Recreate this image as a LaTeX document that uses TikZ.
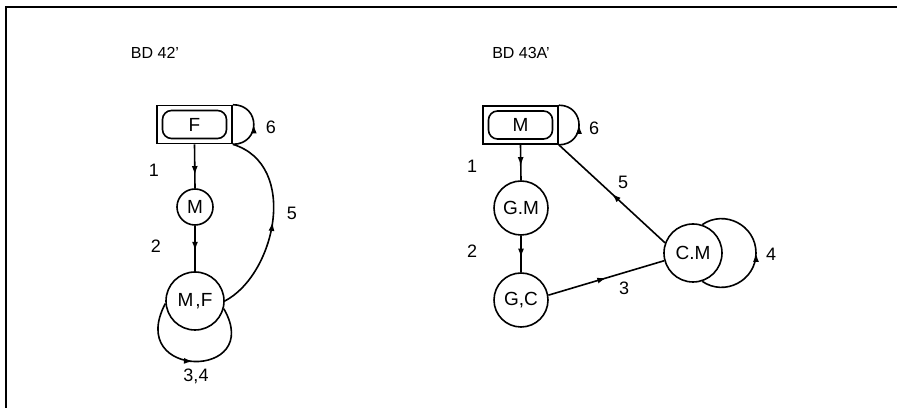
\documentclass[tikz,border=0pt]{standalone}
\usepackage{fontspec}
\setmainfont{Liberation Sans}
\usetikzlibrary{arrows.meta,decorations.markings}

\tikzset{
  midarr/.style={postaction={decorate},
    decoration={markings, mark=at position #1 with {\arrow{Latex[length=9pt,width=6pt]}}}},
  midarr/.default=0.5,
  cnode/.style={circle, draw, inner sep=0pt, minimum size=#1, font=\fontsize{19}{22}\selectfont},
  outerbox/.style={draw, inner sep=0pt, minimum width=75pt, minimum height=38pt},
  innerbox/.style={draw, rounded corners=9pt, inner sep=0pt, minimum width=64pt, minimum height=28pt,
    font=\fontsize{19}{22}\selectfont},
  ttl/.style={font=\fontsize{16}{19}\selectfont},
}

\begin{document}
\begin{tikzpicture}[x=1pt, y=-1pt, line width=1.6pt, font=\fontsize{18}{21}\selectfont]
  \useasboundingbox (0,0) rectangle (897,411);
  \draw[line width=2pt] (6,408) -- (6,7) -- (897,7);

  % BD 42'
  \node[ttl] (t42) at (155,53) {BD 42'};
  \node[outerbox] (f) at (194.5,124.5) {};
  \node[innerbox] (fin) at (f) {F};
  \node[cnode=36pt] (m) at (195,207) {M};
  \node[cnode=58pt] (mf) at (195,301) {M\kern2pt,F};
  \draw[midarr=0.7] (f.south) -- (m.north);
  \draw[midarr=0.55] (m.south) -- (mf.north);
  \draw[midarr] (mf.185) .. controls (125,380) and (265,380) .. (mf.-15);
  \draw[midarr] (mf.0) .. controls (275,275) and (300,165) .. (f.south east);
  \draw[midarr] (f.south east) .. controls +(28,0) and +(28,0) .. (f.north east);
  \foreach \x/\y/\lab [count=\i] in {154/170/1, 156/246/2, 196/376/{3,4}, 292/213/5, 271/127/6}
    \node (la\i) at (\x,\y) {\lab};

  % BD 43A'
  \node[ttl] (t43) at (521,53) {BD 43A'};
  \node[outerbox] (mb) at (520.5,125) {};
  \node[innerbox] (mbin) at (mb) {M};
  \node[cnode=54pt] (gm) at (521,208) {G.M};
  \node[cnode=54pt] (gc) at (521,300) {G,C};
  \node[cnode=58pt] (cm) at (693,253) {C.M};
  \draw[midarr=0.6] (mb.south) -- (gm.north);
  \draw[midarr=0.6] (gm.south) -- (gc.north);
  \draw[midarr] (gc.10) -- (cm.195);
  \draw[midarr] (cm.160) -- (mb.south east);
  \draw[midarr] (cm.-72) .. controls (724.5,296.8) and (756,280.8) .. (756,253)
                         .. controls (756,225.2) and (724.5,209.2) .. (cm.72);
  \draw[midarr] (mb.south east) .. controls +(27,0) and +(27,0) .. (mb.north east);
  \foreach \x/\y/\lab [count=\i] in {472/166/1, 472/251/2, 624/288/3, 771/254/4, 623/182/5, 594/128/6}
    \node (lb\i) at (\x,\y) {\lab};
\end{tikzpicture}
\end{document}
